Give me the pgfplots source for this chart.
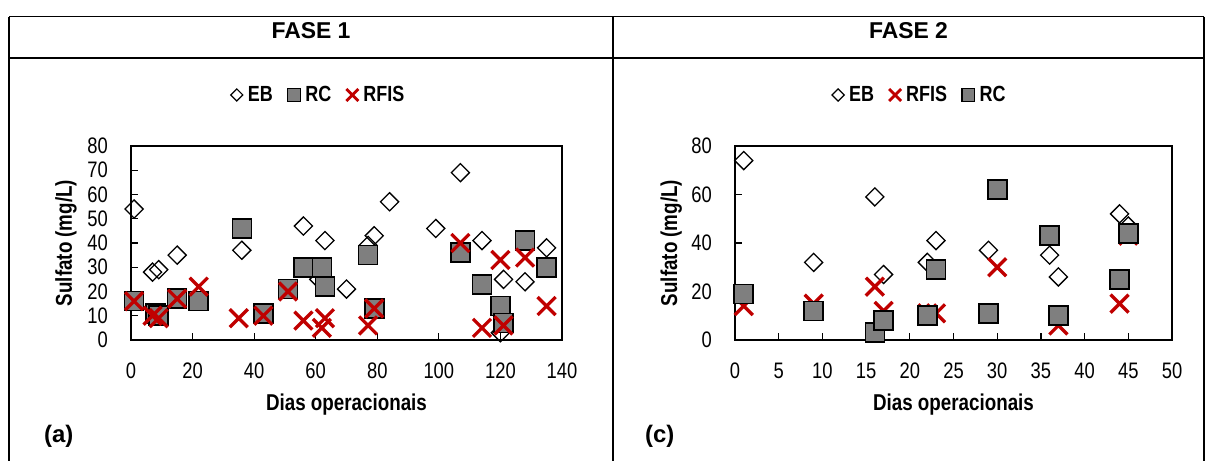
\documentclass[border=0pt]{standalone}
\usepackage{fontspec}
\setmainfont{Liberation Sans}
\newfontfamily\narrow[FakeStretch=0.82]{Liberation Sans}
\usepackage{pgfplots}
\pgfplotsset{compat=1.18}
\definecolor{rcgray}{HTML}{7F7F7F}
\definecolor{xred}{HTML}{C00000}
\pgfplotsset{
  myaxis/.style={
    scale only axis, height=194bp,
    ymin=0, ymax=80,
    axis line style={line width=1.5bp, black},
    every tick/.style={line width=1.2bp, black},
    tick align=inside, major tick length=7bp,
    tick pos=left,
    ticklabel style={font=\narrow\fontsize{22.5}{22.5}\selectfont, black},
    /pgf/number format/assume math mode=true,
    yticklabel style={inner sep=0pt, xshift=-23bp},
    xticklabel style={inner sep=0pt, yshift=-23bp},
    label style={font=\narrow\bfseries\fontsize{23}{23}\selectfont},
    xlabel style={at={(axis description cs:0.5,-0.361)}, anchor=base},
    clip=false,
    legend style={draw=none, fill=none, legend columns=-1, anchor=center,
      font=\narrow\bfseries\fontsize{22}{22}\selectfont,
      /tikz/every odd column/.append style={column sep=3bp},
      /tikz/every even column/.append style={column sep=13bp},
      inner sep=0pt},
  },
  ebst/.style={only marks, mark=square, mark size=6.4bp,
    mark options={rotate=45, draw=black, fill=white, line width=1.3bp}},
  rcst/.style={only marks, mark=square*, mark size=9.5bp,
    mark options={draw=black, fill=rcgray, line width=1.6bp}},
  rfst/.style={only marks, mark=x, mark size=12.7bp,
    mark options={draw=xred, line width=3.3bp}},
  ebleg/.style={only marks, mark=square, mark size=4.3bp,
    mark options={rotate=45, draw=black, fill=white, line width=1.2bp}},
  rcleg/.style={only marks, mark=square*, mark size=6.3bp,
    mark options={draw=black, fill=rcgray, line width=1.3bp}},
  rfleg/.style={only marks, mark=x, mark size=8.5bp,
    mark options={draw=xred, line width=2.8bp}},
}
\begin{document}
\begin{tikzpicture}
\useasboundingbox (0,0) rectangle (1206bp,461bp);
% table frame
\draw[line width=1.3bp] (9bp,444.3bp) -- (1204bp,444.3bp);
\draw[line width=1.3bp] (9bp,403bp) -- (1204bp,403bp);
\draw[line width=1.3bp] (9bp,444.3bp) -- (9bp,0bp);
\draw[line width=1.3bp] (613bp,444.3bp) -- (613bp,0bp);
\draw[line width=1.3bp] (1204bp,444.3bp) -- (1204bp,0bp);
\node[font=\bfseries\fontsize{23}{23}\selectfont] at (311bp,430bp) {FASE 1};
\node[font=\bfseries\fontsize{23}{23}\selectfont] at (908.5bp,430bp) {FASE 2};
\node[font=\bfseries\fontsize{24}{24}\selectfont, anchor=west, inner sep=0pt] at (44bp,25bp) {(a)};
\node[font=\bfseries\fontsize{24}{24}\selectfont, anchor=west, inner sep=0pt] at (645bp,25bp) {(c)};

\begin{axis}[myaxis, at={(131bp,121bp)}, anchor=south west, width=431bp,
  xmin=0, xmax=140, xtick={0,20,...,140}, ytick={0,10,...,80},
  xlabel={Dias operacionais}, ylabel={Sulfato (mg/L)},
  ylabel style={at={(axis description cs:-0.151,0.5)}, anchor=center},
  legend style={at={(0.435,1.263)}}]
\addlegendimage{ebleg}\addlegendentry{EB}
\addlegendimage{rcleg}\addlegendentry{RC}
\addlegendimage{rfleg}\addlegendentry{RFIS}
\addplot[ebst, forget plot] coordinates {(1,54)(7,28)(9,29)(15,35)(36,37)(56,47)(61,25)(63,41)(70,21)(77,39)(79,43)(84,57)(99,46)(107,69)(114,41)(120,3)(121,25)(128,24)(135,38)};
\addplot[rcst, forget plot] coordinates {(1,16)(8,11)(9,10)(15,17)(22,16)(36,46)(43,11)(51,21)(56,30)(62,30)(63,22)(77,35)(79,13)(107,36)(114,23)(120,14)(121,7)(128,41)(135,30)};
\addplot[rfst, forget plot] coordinates {(1,16)(7,10)(9,9)(15,17)(22,22)(35,9)(43,10)(51,20)(56,8)(62,5)(63,9)(77,6)(79,13)(107,40)(114,5)(120,33)(121,6)(128,34)(135,14)};
\end{axis}

\begin{axis}[myaxis, at={(735bp,121bp)}, anchor=south west, width=437bp,
  xmin=0, xmax=50, xtick={0,5,...,50}, ytick={0,20,...,80},
  xlabel={Dias operacionais}, ylabel={Sulfato (mg/L)},
  ylabel style={at={(axis description cs:-0.146,0.5)}, anchor=center},
  legend style={at={(0.423,1.263)}}]
\addlegendimage{ebleg}\addlegendentry{EB}
\addlegendimage{rfleg}\addlegendentry{RFIS}
\addlegendimage{rcleg}\addlegendentry{RC}
\addplot[ebst, forget plot] coordinates {(1,74)(9,32)(16,59)(17,27)(22,32)(23,41)(29,37)(36,35)(37,26)(44,52)(45,47)};
\addplot[rfst, forget plot] coordinates {(1,14)(9,15)(16,22)(17,12)(22,11)(23,11)(30,30)(37,6)(44,15)(45,43)};
\addplot[rcst, forget plot] coordinates {(1,19)(9,12)(16,3)(17,8)(22,10)(23,29)(29,11)(30,62)(36,43)(37,10)(44,25)(45,44)};
\end{axis}
\end{tikzpicture}
\end{document}
